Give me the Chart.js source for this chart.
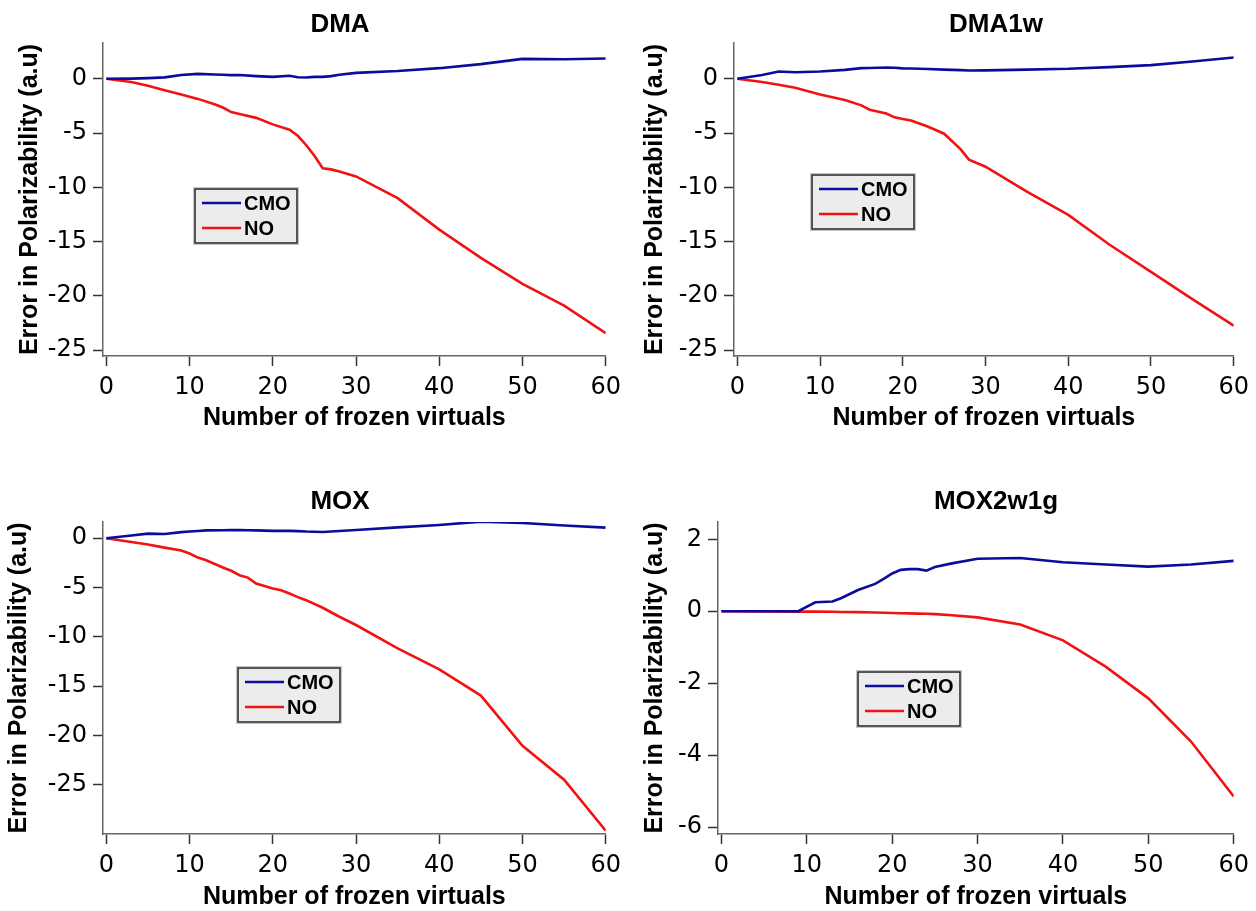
<!DOCTYPE html>
<html>
<head>
<meta charset="utf-8">
<title>Error in polarizability vs frozen virtuals</title>
<script src="https://cdn.jsdelivr.net/npm/chart.js@4.4.1/dist/chart.umd.min.js"></script>
<style>
  html, body { margin: 0; padding: 0; background: #fff; overflow: hidden; }
  canvas { position: absolute; }
</style>
</head>
<body>
<canvas id="dma" width="628" height="450" style="left:0;top:0"></canvas>
<canvas id="dma1w" width="628" height="450" style="left:628px;top:0"></canvas>
<canvas id="mox" width="628" height="470" style="left:0;top:450px"></canvas>
<canvas id="mox2w1g" width="628" height="470" style="left:628px;top:450px"></canvas>
<script>
// --- data ---
const xTicks = [0, 10, 20, 30, 40, 50, 60];
const seriesNames = ['CMO', 'NO'];
const seriesColors = ['#0c0c9c', '#f21212'];

// DMA
const dmaX   = [0, 3, 5, 7, 9, 11, 13, 14, 15, 16, 18, 20, 22, 23, 24, 25, 26, 27, 28, 30, 35, 40, 45, 50, 55, 60];
const dmaCmo = [0, 0.02, 0.06, 0.13, 0.35, 0.45, 0.4, 0.37, 0.34, 0.35, 0.25, 0.18, 0.28, 0.15, 0.12, 0.18, 0.18, 0.25, 0.38, 0.55, 0.72, 0.98, 1.35, 1.84, 1.8, 1.87];
const dmaNo  = [0, -0.3, -0.64, -1.05, -1.45, -1.85, -2.35, -2.65, -3.07, -3.25, -3.6, -4.2, -4.7, -5.25, -6.1, -7.1, -8.25, -8.35, -8.55, -9.0, -11.0, -13.9, -16.5, -18.9, -20.9, -23.45];
const dmaTicks = [0, -5, -10, -15, -20, -25];

// DMA1w
const dma1wX   = [0, 3, 5, 7, 10, 13, 15, 16, 18, 19, 20, 21, 23, 25, 27, 28, 30, 35, 40, 45, 50, 55, 60];
const dma1wCmo = [0, 0.35, 0.67, 0.6, 0.68, 0.82, 0.98, 1.0, 1.04, 1.02, 0.96, 0.95, 0.9, 0.85, 0.8, 0.77, 0.78, 0.85, 0.92, 1.08, 1.26, 1.6, 1.96];
const dma1wNo  = [0, -0.3, -0.55, -0.83, -1.45, -1.95, -2.45, -2.85, -3.2, -3.55, -3.7, -3.85, -4.4, -5.06, -6.5, -7.45, -8.1, -10.4, -12.55, -15.3, -17.8, -20.3, -22.75];
const dma1wTicks = [0, -5, -10, -15, -20, -25];

// MOX
const moxX   = [0, 3, 5, 7, 9, 10, 11, 12, 14, 15, 16, 17, 18, 20, 21, 22, 23, 24, 26, 28, 30, 35, 40, 45, 50, 55, 60];
const moxCmo = [0, 0.28, 0.47, 0.44, 0.62, 0.68, 0.74, 0.8, 0.82, 0.84, 0.83, 0.82, 0.8, 0.75, 0.75, 0.75, 0.72, 0.68, 0.64, 0.74, 0.84, 1.1, 1.35, 1.69, 1.55, 1.3, 1.08];
const moxNo  = [0, -0.38, -0.64, -0.95, -1.25, -1.55, -1.96, -2.23, -2.97, -3.3, -3.75, -3.99, -4.6, -5.1, -5.27, -5.6, -5.97, -6.28, -7.05, -7.96, -8.8, -11.17, -13.3, -15.96, -21.05, -24.5, -29.66];
const moxTicks = [0, -5, -10, -15, -20, -25];

// MOX2w1g
const mox2X   = [0, 5, 9, 11, 13, 14, 16, 18, 19, 20, 21, 22, 23, 24, 25, 27, 30, 35, 40, 45, 50, 55, 60];
const mox2Cmo = [0, 0, 0, 0.25, 0.27, 0.36, 0.59, 0.76, 0.9, 1.05, 1.15, 1.17, 1.17, 1.13, 1.23, 1.33, 1.46, 1.48, 1.36, 1.3, 1.24, 1.3, 1.4];
const mox2No  = [0, -0.005, -0.01, -0.01, -0.015, -0.02, -0.025, -0.035, -0.04, -0.05, -0.055, -0.06, -0.065, -0.07, -0.08, -0.11, -0.17, -0.37, -0.81, -1.54, -2.42, -3.62, -5.15];
const mox2Ticks = [2, 0, -2, -4, -6];

// --- layout of the four panels ---
const panels = [
  { id: 'dma', title: 'DMA', xs: dmaX, cmo: dmaCmo, no: dmaNo, yTicks: dmaTicks, yMin: -25.55, yMax: 3.3,
    titleX: 340, titleY: 25, pad: { top: 43, right: 22, bottom: 14 }, yWidth: 103, yTitlePad: 17.5, xTitlePad: 5.5,
    legendX: 195, legendY: 189 },
  { id: 'dma1w', title: 'DMA1w', xs: dma1wX, cmo: dma1wCmo, no: dma1wNo, yTicks: dma1wTicks, yMin: -25.55, yMax: 3.3,
    titleX: 368, titleY: 25, pad: { top: 43, right: 19, bottom: 14 }, yWidth: 106, yTitlePad: 14.5, xTitlePad: 5.5,
    legendX: 184, legendY: 175 },
  { id: 'mox', title: 'MOX', xs: moxX, cmo: moxCmo, no: moxNo, yTicks: moxTicks, yMin: -30, yMax: 1.65,
    titleX: 340, titleY: 52, pad: { top: 72, right: 22, bottom: 6 }, yWidth: 103, yTitlePad: 6.5, xTitlePad: 4.5,
    legendX: 238, legendY: 218 },
  { id: 'mox2w1g', title: 'MOX2w1g', xs: mox2X, cmo: mox2Cmo, no: mox2No, yTicks: mox2Ticks, yMin: -6.19, yMax: 2.48,
    titleX: 368, titleY: 52, pad: { top: 72, right: 19, bottom: 6 }, yWidth: 90, yTitlePad: 14.5, xTitlePad: 4.5,
    legendX: 230, legendY: 222 }
];

const boldFamily = '"Liberation Sans", Arial, sans-serif';
const tickFont = { family: '"DejaVu Sans", sans-serif', size: 24 };
const axisTitleFont = { family: boldFamily, size: 25, weight: 'bold', lineHeight: 1 };

function toPoints(xs, ys) {
  return xs.map((x, i) => ({ x: x, y: ys[i] }));
}

// panel title + boxed legend drawn inside the plot
const panelDecor = {
  id: 'panelDecor',
  afterDraw(chart, args, opts) {
    const ctx = chart.ctx;
    ctx.save();
    ctx.fillStyle = '#000';
    ctx.textAlign = 'center';
    ctx.textBaseline = 'middle';
    ctx.font = 'bold 26px ' + boldFamily;
    ctx.fillText(opts.title, opts.titleX, opts.titleY);

    const lx = opts.legendX, ly = opts.legendY, w = 102, h = 54;
    ctx.fillStyle = '#ececec';
    ctx.fillRect(lx, ly, w, h);
    ctx.strokeStyle = '#c4c4c4';
    ctx.lineWidth = 1;
    ctx.strokeRect(lx - 1.5, ly - 1.5, w + 3, h + 3);
    ctx.strokeStyle = '#222';
    ctx.lineWidth = 1.5;
    ctx.strokeRect(lx, ly, w, h);

    ctx.textAlign = 'left';
    ctx.font = 'bold 20px ' + boldFamily;
    chart.data.datasets.forEach((ds, i) => {
      const cy = ly + 14 + i * 25;
      ctx.strokeStyle = ds.borderColor;
      ctx.lineWidth = 2.6;
      ctx.beginPath();
      ctx.moveTo(lx + 7, cy);
      ctx.lineTo(lx + 46, cy);
      ctx.stroke();
      ctx.fillStyle = '#000';
      ctx.fillText(ds.label, lx + 49, cy + 1);
    });
    ctx.restore();
  }
};

panels.forEach(function(p) {
  const ctx = document.getElementById(p.id);
  new Chart(ctx, {
    type: 'line',
    data: {
      datasets: [
        { label: seriesNames[0], data: toPoints(p.xs, p.cmo), borderColor: seriesColors[0] },
        { label: seriesNames[1], data: toPoints(p.xs, p.no), borderColor: seriesColors[1] }
      ]
    },
    options: {
      responsive: false,
      animation: false,
      devicePixelRatio: 1,
      elements: {
        point: { radius: 0 },
        line: { tension: 0, borderWidth: 2.6, fill: false }
      },
      layout: { padding: { left: 0, top: p.pad.top, right: p.pad.right, bottom: p.pad.bottom } },
      plugins: {
        legend: { display: false },
        tooltip: { enabled: false },
        panelDecor: { title: p.title, titleX: p.titleX, titleY: p.titleY, legendX: p.legendX, legendY: p.legendY }
      },
      scales: {
        x: {
          type: 'linear',
          min: -0.4,
          max: 60,
          afterBuildTicks: s => { s.ticks = xTicks.map(v => ({ value: v })); },
          afterFit: s => { s.height = 80; },
          border: { color: '#666', width: 1.5 },
          grid: { drawOnChartArea: false, tickLength: 10, tickColor: '#333', tickWidth: 1.5 },
          ticks: { color: '#000', padding: 7, font: tickFont, maxRotation: 0 },
          title: { display: true, text: 'Number of frozen virtuals', color: '#000', font: axisTitleFont,
                   padding: { top: 0, bottom: p.xTitlePad } }
        },
        y: {
          type: 'linear',
          min: p.yMin,
          max: p.yMax,
          afterBuildTicks: s => { s.ticks = p.yTicks.map(v => ({ value: v })); },
          afterFit: s => { s.width = p.yWidth; },
          border: { color: '#666', width: 1.5 },
          grid: { drawOnChartArea: false, tickLength: 10, tickColor: '#333', tickWidth: 1.5 },
          ticks: { color: '#000', padding: 6, font: tickFont },
          title: { display: true, text: 'Error in Polarizability (a.u)', color: '#000', font: axisTitleFont,
                   padding: { top: p.yTitlePad, bottom: 0 } }
        }
      }
    },
    plugins: [panelDecor]
  });
});
</script>
</body>
</html>
